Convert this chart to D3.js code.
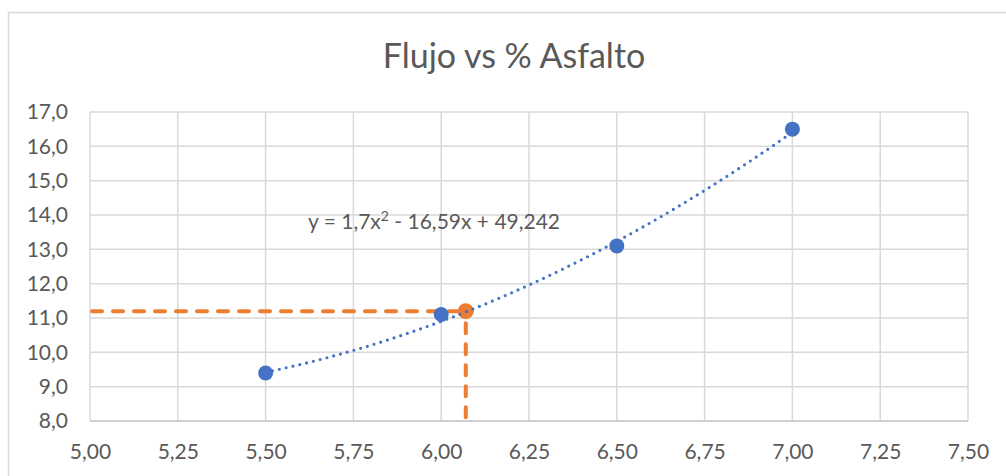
<!DOCTYPE html>
<html>
<head>
<meta charset="utf-8">
<script src="https://cdn.jsdelivr.net/npm/d3@7"></script>
<style>
  html, body { margin: 0; padding: 0; background: #fff; }
  svg { display: block; }
  text { font-family: Lato, "Open Sans", sans-serif; fill: #595959; }
</style>
</head>
<body>
<svg id="chart" width="1006" height="476"></svg>
<script>
// Measured points: % asphalt vs flow
const asfalto = [5.5, 6.0, 6.5, 7.0];
const flujo = [9.4, 11.1, 13.1, 16.5];

// Trendline coefficients (y = a x² + b x + c)
const coefA = 1.7, coefB = -16.59, coefC = 49.242;

// Design point read from the trendline
const designX = [6.07];
const designY = [11.2];

const xTicks = [5.00, 5.25, 5.50, 5.75, 6.00, 6.25, 6.50, 6.75, 7.00, 7.25, 7.50];
const yTicks = [8, 9, 10, 11, 12, 13, 14, 15, 16, 17];

const title = "Flujo vs % Asfalto";

const svg = d3.select("#chart");
const W = 1006, H = 476;
const plot = { left: 90, right: 968, top: 112, bottom: 421 };

const fmt2 = v => v.toFixed(2).replace(".", ",");
const fmt1 = v => v.toFixed(1).replace(".", ",");

const x = d3.scaleLinear().domain([5.0, 7.5]).range([plot.left, plot.right]);
const y = d3.scaleLinear().domain([8, 17]).range([plot.bottom, plot.top]);

// Outer chart border
svg.append("rect")
  .attr("x", 8.5).attr("y", 12.5)
  .attr("width", W + 20).attr("height", H + 20)
  .attr("fill", "none").attr("stroke", "#d9d9d9").attr("stroke-width", 1.5);

// Title
svg.append("text")
  .attr("x", 514).attr("y", 68)
  .attr("text-anchor", "middle")
  .style("font-size", "34px")
  .text(title);

// Gridlines
const grid = svg.append("g");
grid.selectAll("line.v").data(xTicks).join("line")
  .attr("x1", d => x(d)).attr("x2", d => x(d))
  .attr("y1", plot.top).attr("y2", plot.bottom)
  .attr("stroke", "#d9d9d9").attr("stroke-width", 1.5);
grid.selectAll("line.h").data(yTicks).join("line")
  .attr("x1", plot.left).attr("x2", plot.right)
  .attr("y1", d => y(d)).attr("y2", d => y(d))
  .attr("stroke", d => d === 8 ? "#bfbfbf" : "#d9d9d9").attr("stroke-width", 1.5);

// Axes (labels only)
const xAxis = d3.axisBottom(x).tickValues(xTicks).tickFormat(fmt2).tickSize(0).tickPadding(23);
const gx = svg.append("g").attr("transform", `translate(0,${plot.bottom})`).call(xAxis);
gx.select(".domain").remove();
gx.selectAll("text").style("font-size", "21px").attr("fill", "#595959");

const yAxis = d3.axisLeft(y).tickValues(yTicks).tickFormat(fmt1).tickSize(0).tickPadding(22);
const gy = svg.append("g").attr("transform", `translate(${plot.left},0)`).call(yAxis);
gy.select(".domain").remove();
gy.selectAll("text").style("font-size", "21px").attr("fill", "#595959");

// Orange guide lines to the design point
const orange = "#ED7D31";
const guides = svg.append("g")
  .attr("stroke", orange).attr("stroke-width", 4)
  .attr("stroke-linecap", "round").attr("stroke-dasharray", "10,11").attr("fill", "none");
guides.append("line")
  .attr("x1", x(5.0) + 2).attr("x2", x(designX[0]))
  .attr("y1", y(designY[0])).attr("y2", y(designY[0]));
guides.append("line")
  .attr("x1", x(designX[0])).attr("x2", x(designX[0]))
  .attr("y1", y(designY[0]) + 12).attr("y2", plot.bottom);

svg.append("g").selectAll("circle").data(designX).join("circle")
  .attr("cx", d => x(d)).attr("cy", (d, i) => y(designY[i]))
  .attr("r", 8).attr("fill", orange);

// Polynomial trendline (dotted)
const blue = "#4472C4";
const trendXs = d3.range(0, 151).map(i => 5.5 + i * 0.01);
const trend = d3.line()
  .x(d => x(d))
  .y(d => y(coefA * d * d + coefB * d + coefC));
svg.append("path")
  .datum(trendXs)
  .attr("d", trend)
  .attr("fill", "none").attr("stroke", blue).attr("stroke-width", 3.2)
  .attr("stroke-linecap", "round").attr("stroke-dasharray", "0,7");

// Data points
svg.append("g").selectAll("circle").data(asfalto).join("circle")
  .attr("cx", d => x(d)).attr("cy", (d, i) => y(flujo[i]))
  .attr("r", 7.5).attr("fill", blue);

// Trendline equation
const eq = svg.append("text")
  .attr("x", 308).attr("y", 229)
  .style("font-size", "21px");
eq.append("tspan").text("y = 1,7x");
eq.append("tspan").attr("dy", -8).style("font-size", "14px").text("2");
eq.append("tspan").attr("dy", 8).text(" - 16,59x + 49,242");
</script>
</body>
</html>
